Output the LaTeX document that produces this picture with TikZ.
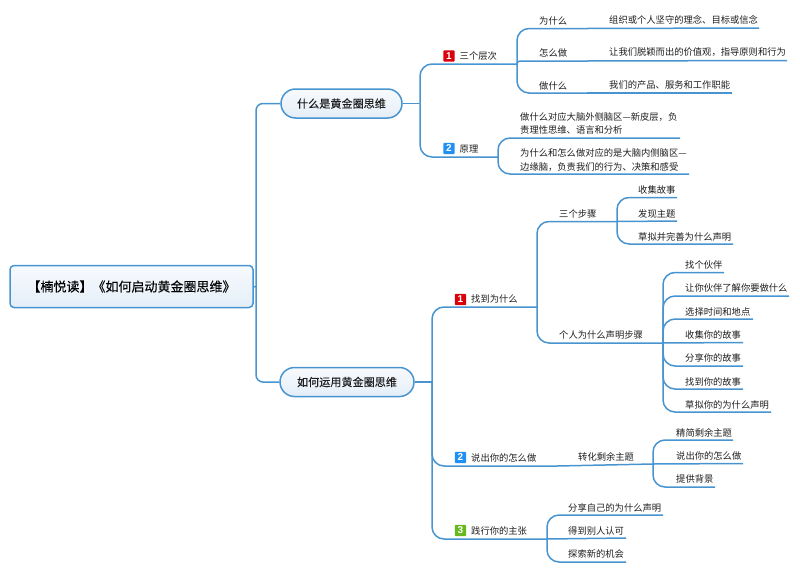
\documentclass[tikz,border=0pt]{standalone}
\usepackage{fontspec}
\setmainfont{Noto Sans CJK SC}
\newfontfamily\numfont{Liberation Sans}
\newfontfamily\topicfont[FakeBold=0.1]{Noto Sans CJK SC}
\definecolor{linkblue}{RGB}{72,148,208}
\definecolor{inkgray}{RGB}{30,30,30}
\definecolor{palelight}{RGB}{248,250,253}
\definecolor{paleblue}{RGB}{228,238,248}
\definecolor{badgered}{RGB}{217,0,12}
\definecolor{badgeblue}{RGB}{32,144,245}
\definecolor{badgegreen}{RGB}{104,184,30}
\tikzset{
  conn/.style={draw=linkblue,line width=1.5pt,rounded corners=12pt},
  rootbox/.style={draw=linkblue,line width=1.5pt,top color=palelight,bottom color=paleblue,rounded corners=4pt,minimum width=243pt,minimum height=42pt,text=black,font=\topicfont\fontsize{13}{15}\selectfont},
  mainbox/.style={draw=linkblue,line width=1.5pt,top color=palelight,bottom color=paleblue,rounded corners=14.5pt,minimum height=29pt,text=inkgray,font=\topicfont\fontsize{11.1}{13}\selectfont},
  leaf/.style={anchor=west,inner sep=0pt,text=inkgray,font=\fontsize{9.3}{13.5}\selectfont},
  badge/.style={inner sep=0pt,minimum size=11.3pt,rounded corners=1pt,text=white,font=\numfont\bfseries\fontsize{10}{10}\selectfont}
}
\begin{document}
\begin{tikzpicture}[x=1pt,y=-1pt]
\useasboundingbox (0,0) rectangle (800,573);

% Root
\node[rootbox] (root) at (131.5,286.5) {【楠悦读】《如何启动黄金圈思维》};
\coordinate (rootHub) at (256,287);

% Main topics
\node[mainbox,minimum width=121pt] (what) at (341.5,103.5) {什么是黄金圈思维};
\node[mainbox,minimum width=134pt] (how) at (347,382) {如何运用黄金圈思维};
\coordinate (whatHub) at (420,103.5);
\coordinate (howHub) at (432,382);
\draw[conn] (root.east) -- (rootHub);
\draw[conn,rounded corners=7pt] (rootHub) |- (what.west);
\draw[conn,rounded corners=7pt] (rootHub) |- (how.west);
\draw[conn] (what.east) -- (whatHub);
\draw[conn] (how.east) -- (howHub);

% Three levels
\node[badge,fill=badgered] (levelsBadge) at (449,56) {1};
\node[leaf] (levels) at (459.5,56) {三个层次};
\coordinate (levelsEnd) at (517,64);
\draw[conn] (whatHub) |- (levelsEnd);

\node[leaf] (why) at (539,21) {为什么};
\coordinate (whyEnd) at (587,28.5);
\draw[conn] (levelsEnd) |- (whyEnd);
\node[leaf] (whyText) at (609,20) {组织或个人坚守的理念、目标或信念};
\coordinate (whyTextEnd) at (759,28);
\draw[conn] (whyEnd) -- (whyTextEnd);

\node[leaf] (howdo) at (539,53) {怎么做};
\coordinate (howdoEnd) at (587,61);
\draw[conn,rounded corners=3pt] (levelsEnd) |- (howdoEnd);
\node[leaf] (howdoText) at (609,52.5) {让我们脱颖而出的价值观，指导原则和行为};
\coordinate (howdoTextEnd) at (787,60.5);
\draw[conn] (howdoEnd) -- (howdoTextEnd);

\node[leaf] (whatdo) at (539,85.5) {做什么};
\coordinate (whatdoEnd) at (587,93);
\draw[conn] (levelsEnd) |- (whatdoEnd);
\node[leaf] (whatdoText) at (609,85) {我们的产品、服务和工作职能};
\coordinate (whatdoTextEnd) at (732,93);
\draw[conn] (whatdoEnd) -- (whatdoTextEnd);

% Principle
\node[badge,fill=badgeblue] (principleBadge) at (449,148.5) {2};
\node[leaf] (principle) at (459.5,149) {原理};
\coordinate (principleEnd) at (498,157);
\draw[conn] (whatHub) |- (principleEnd);

\node[leaf,align=left] (cortex) at (520,123.5) {做什么对应大脑外侧脑区—新皮层，负\\责理性思维、语言和分析};
\coordinate (cortexEnd) at (680,138);
\draw[conn] (principleEnd) |- (cortexEnd);
\node[leaf,align=left] (limbic) at (520,160) {为什么和怎么做对应的是大脑内侧脑区—\\边缘脑，负责我们的行为、决策和感受};
\coordinate (limbicEnd) at (689,174);
\draw[conn] (principleEnd) |- (limbicEnd);

% Find why
\node[badge,fill=badgered] (findBadge) at (460.5,299.5) {1};
\node[leaf] (find) at (471,299) {找到为什么};
\coordinate (findEnd) at (537,307);
\draw[conn] (howHub) |- (findEnd);

\node[leaf] (steps) at (559,214) {三个步骤};
\coordinate (stepsEnd) at (617,221.5);
\draw[conn] (findEnd) |- (stepsEnd);
\node[leaf] (stepA) at (638,190) {收集故事};
\coordinate (stepAEnd) at (677,197.5);
\draw[conn] (stepsEnd) |- (stepAEnd);
\node[leaf] (stepB) at (638,213.5) {发现主题};
\coordinate (stepBEnd) at (677,221);
\draw[conn] (stepsEnd) -- (stepBEnd);
\node[leaf] (stepC) at (638,236.5) {草拟并完善为什么声明};
\coordinate (stepCEnd) at (733,244);
\draw[conn] (stepsEnd) |- (stepCEnd);

\node[leaf] (personal) at (559,335) {个人为什么声明步骤};
\coordinate (personalEnd) at (663,343);
\draw[conn] (findEnd) |- (personalEnd);
\node[leaf] (pA) at (685,265) {找个伙伴};
\coordinate (pAEnd) at (724,272.5);
\draw[conn] (personalEnd) |- (pAEnd);
\node[leaf] (pB) at (685,288) {让你伙伴了解你要做什么};
\coordinate (pBEnd) at (789,296);
\draw[conn] (personalEnd) |- (pBEnd);
\node[leaf] (pC) at (685,311.5) {选择时间和地点};
\coordinate (pCEnd) at (753,319);
\draw[conn] (personalEnd) |- (pCEnd);
\node[leaf] (pD) at (685,335) {收集你的故事};
\coordinate (pDEnd) at (743,342.5);
\draw[conn] (personalEnd) -- (pDEnd);
\node[leaf] (pE) at (685,358) {分享你的故事};
\coordinate (pEEnd) at (743,366);
\draw[conn] (personalEnd) |- (pEEnd);
\node[leaf] (pF) at (685,381.5) {找到你的故事};
\coordinate (pFEnd) at (743,389);
\draw[conn] (personalEnd) |- (pFEnd);
\node[leaf] (pG) at (685,404.5) {草拟你的为什么声明};
\coordinate (pGEnd) at (771,412);
\draw[conn] (personalEnd) |- (pGEnd);

% Say how
\node[badge,fill=badgeblue] (sayBadge) at (460.5,457.5) {2};
\node[leaf] (say) at (471,458) {说出你的怎么做};
\coordinate (sayEnd) at (557,466);
\draw[conn] (howHub) |- (sayEnd);

\node[leaf] (convert) at (578,457) {转化剩余主题};
\coordinate (convertEnd) at (653,464);
\draw[conn,rounded corners=3pt] (sayEnd) -- (convertEnd);
\node[leaf] (cA) at (676,432.5) {精简剩余主题};
\coordinate (cAEnd) at (733,440);
\draw[conn] (convertEnd) |- (cAEnd);
\node[leaf] (cB) at (676,456) {说出你的怎么做};
\coordinate (cBEnd) at (743,463.5);
\draw[conn] (convertEnd) -- (cBEnd);
\node[leaf] (cC) at (676,479) {提供背景};
\coordinate (cCEnd) at (715,487);
\draw[conn] (convertEnd) |- (cCEnd);

% Practice
\node[badge,fill=badgegreen] (doBadge) at (460.5,530.5) {3};
\node[leaf] (practice) at (471,531) {践行你的主张};
\coordinate (practiceEnd) at (547,539);
\draw[conn] (howHub) |- (practiceEnd);

\node[leaf] (dA) at (568,508) {分享自己的为什么声明};
\coordinate (dAEnd) at (663,515);
\draw[conn] (practiceEnd) |- (dAEnd);
\node[leaf] (dB) at (568,531) {得到别人认可};
\coordinate (dBEnd) at (626,538);
\draw[conn] (practiceEnd) -- (dBEnd);
\node[leaf] (dC) at (568,554) {探索新的机会};
\coordinate (dCEnd) at (626,562);
\draw[conn] (practiceEnd) |- (dCEnd);
\end{tikzpicture}
\end{document}
